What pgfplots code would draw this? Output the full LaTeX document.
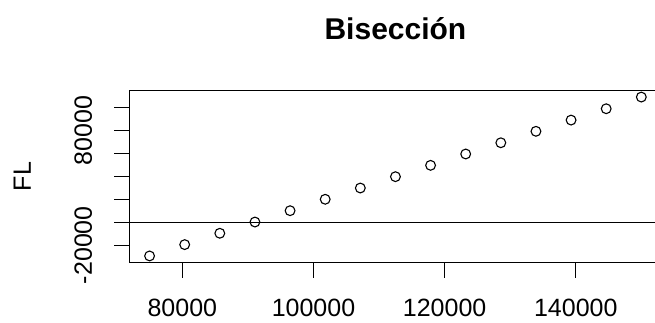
\documentclass[border=0pt]{standalone}
\usepackage{pgfplots}
\pgfplotsset{compat=1.18}
\usepackage{fontspec}
\setmainfont{Liberation Sans}

\begin{document}
\begin{tikzpicture}[x=1pt,y=1pt]
\useasboundingbox (0,0) rectangle (655,322);
\begin{axis}[
  at={(129.9pt,59.7pt)}, anchor=south west,
  scale only axis, width=531.1pt, height=171.6pt,
  xmin=72000, xmax=153000, ymin=-34950, ymax=114850,
  axis line style={line width=1pt},
  tick style={line width=1pt, black},
  major tick length=15.5pt, tick align=outside,
  xtick pos=left, ytick pos=left,
  xtick={80000,100000,120000,140000},
  xticklabels={80000,100000,120000,140000},
  ytick={-20000,0,20000,40000,60000,80000,100000},
  yticklabels={-20000,,,,,80000,},
  scaled x ticks=false, scaled y ticks=false,
  ticklabel style={font=\fontsize{25}{30}\selectfont},
  xticklabel style={anchor=base, yshift=-38.9pt},
  yticklabel style={xshift=-22.4pt, rotate=90, anchor=base},
  title={Bisección},
  every axis title/.style={at={(axis description cs:0.5,1)}, anchor=base, yshift=51.4pt, font=\fontsize{30}{36}\selectfont\bfseries},
  ylabel={FL},
  every axis y label/.style={at={(axis description cs:0,0.5)}, xshift=-98.9pt, rotate=90, anchor=base, font=\fontsize{25}{30}\selectfont},
  clip=false,
]
% reference line at zero
\addplot[black, line width=1pt] coordinates {(72000,0) (153000,0)};
% bisection iterates
\addplot[only marks, mark=o, mark size=4.9pt, mark options={line width=1.1pt, black}] coordinates {
  (75000,-29400) (80357,-19500) (85714,-9600) (91071,200) (96429,10100)
  (101786,20060) (107143,29900) (112500,39800) (117857,49700) (123214,59600)
  (128571,69400) (133929,79400) (139286,89200) (144643,99100) (150000,109300)
};
\end{axis}
\end{tikzpicture}
\end{document}
